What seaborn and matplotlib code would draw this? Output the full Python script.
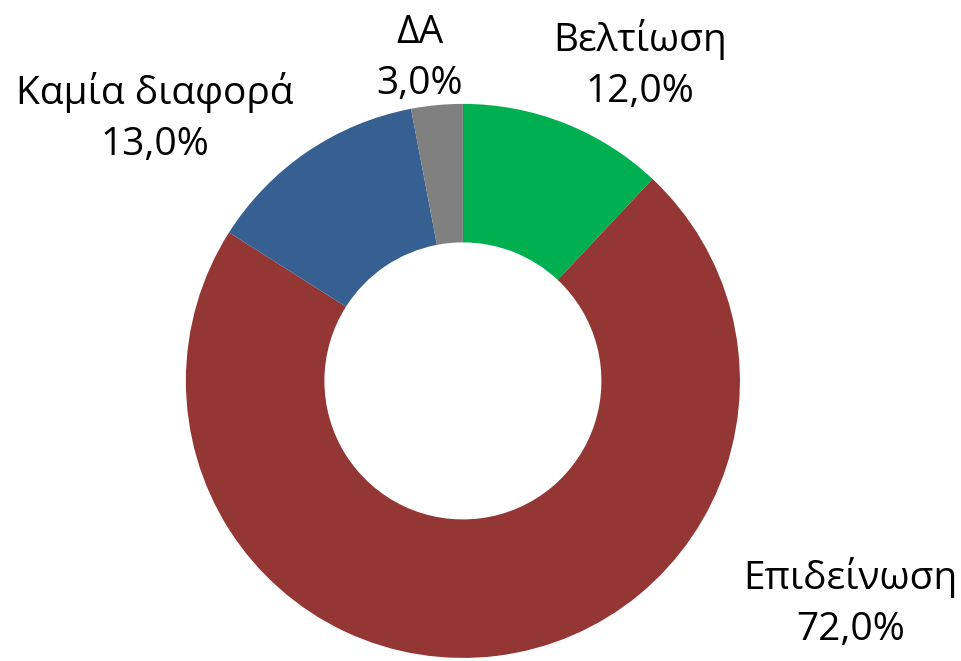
import matplotlib
matplotlib.use("Agg")
import matplotlib.pyplot as plt
import seaborn as sns

sns.set_theme(style="white")
plt.rcParams['font.family'] = ['Open Sans', 'DejaVu Sans']

categories = ["Βελτίωση", "Επιδείνωση", "Καμία διαφορά", "ΔΑ"]
values = [12.0, 72.0, 13.0, 3.0]
colors = ["#00B050", "#943634", "#376092", "#808080"]

# label anchor positions (axes fraction), layout only
label_pos = [(0.666, 0.901), (0.885, 0.088), (0.161, 0.822), (0.437, 0.911)]

fig = plt.figure(figsize=(9.61, 6.61), dpi=100)
ax = fig.add_axes([0, 0, 1, 1])
ax.pie(values, colors=colors, startangle=90, counterclock=False,
       radius=1.0, wedgeprops=dict(width=0.5, linewidth=0))
ax.set_xlim(-1.671, 1.798)
ax.set_ylim(-1.011, 1.375)
ax.set_aspect('equal')
ax.axis('off')

for cat, val, (x, y) in zip(categories, values, label_pos):
    txt = f"{cat}\n{val:.1f}%".replace(".", ",")
    ax.text(x, y, txt, transform=ax.transAxes, ha='center', va='center',
            fontsize=28, color='black', linespacing=1.45)

fig.savefig("out.png", dpi=100, facecolor='white')
